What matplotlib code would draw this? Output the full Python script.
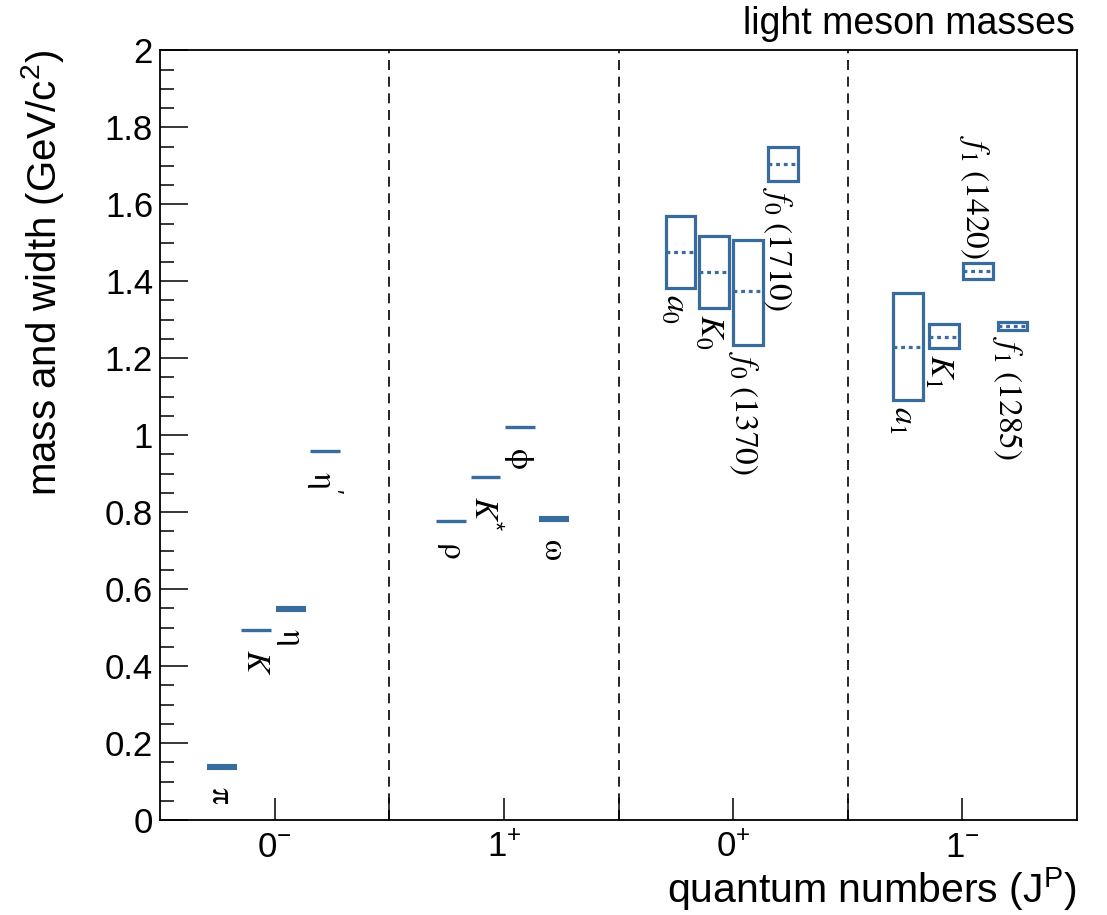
"""Light meson mass / width overview, ROOT-style."""
import matplotlib
matplotlib.use("Agg")
import matplotlib.pyplot as plt
from matplotlib.patches import Rectangle
from matplotlib.ticker import FixedLocator, FuncFormatter, MultipleLocator

plt.rcParams["font.family"] = ["Liberation Sans", "DejaVu Sans"]
plt.rcParams["mathtext.fontset"] = "stix"
plt.rcParams["mathtext.default"] = "regular"

# ---------------------------------------------------------------------------
# Data (GeV/c^2).
# ---------------------------------------------------------------------------
jp_labels = [r"$0^{-}$", r"$1^{+}$", r"$0^{+}$", r"$1^{-}$"]

# narrow states, drawn as short horizontal bars
line_names = [r"$\mathrm{\pi}$", r"$\mathit{K}$", r"$\mathrm{\eta}$",
              r"$\mathrm{\eta}'$", r"$\mathrm{\rho}$", r"$\mathit{K}^{*}$",
              r"$\mathrm{\phi}$", r"$\mathrm{\omega}$"]
line_x = [-0.23, -0.08, 0.07, 0.22, 0.77, 0.92, 1.07, 1.22]
line_mass = [0.138, 0.494, 0.548, 0.958, 0.776, 0.892, 1.020, 0.782]

# broad states, drawn as boxes (mass line + low/high edge)
box_names = [r"$\mathit{a}_{\mathit{0}}$", r"$\mathit{K}_{\mathit{0}}$",
             r"$\mathit{f}_{\mathit{0}}\mathit{\ (1370)}$",
             r"$\mathit{f}_{\mathit{0}}\mathit{\ (1710)}$",
             r"$\mathit{a}_{\mathit{1}}$", r"$\mathit{K}_{\mathit{1}}$",
             r"$\mathit{f}_{\mathit{1}}\mathit{\ (1420)}$",
             r"$\mathit{f}_{\mathit{1}}\mathit{\ (1285)}$"]
box_x = [1.77, 1.917, 2.066, 2.218, 2.764, 2.921, 3.066, 3.218]
box_mass = [1.475, 1.423, 1.374, 1.704, 1.229, 1.255, 1.426, 1.283]
box_lo = [1.382, 1.330, 1.234, 1.660, 1.091, 1.226, 1.405, 1.273]
box_hi = [1.569, 1.517, 1.506, 1.748, 1.369, 1.288, 1.447, 1.294]

# styles
COLOR = "#386b9e"
line_lw = [4.4, 2.4, 4.4, 2.4, 2.4, 2.4, 2.4, 4.4]
box_label_above = [False, False, False, False, False, False, True, False]
HW = 0.065  # half width of bars / boxes in x units

fig = plt.figure(figsize=(11.07, 9.15), dpi=100)
ax = fig.add_axes([0.1445, 0.1038, 0.8285, 0.8412])

for x, m, lw, name in zip(line_x, line_mass, line_lw, line_names):
    ax.hlines(m, x - HW, x + HW, color=COLOR, lw=lw, zorder=3)
    ax.text(x - 0.005, m - 0.05, name, rotation=-90, ha="center", va="top",
            fontsize=24)

for x, m, lo, hi, name, above in zip(box_x, box_mass, box_lo, box_hi,
                                     box_names, box_label_above):
    ax.add_patch(Rectangle((x - HW, lo), 2 * HW, hi - lo, fill=False,
                           ec=COLOR, lw=2.3, zorder=3))
    ax.hlines(m, x - HW, x + HW, color=COLOR, lw=2.3,
              linestyles=(0, (1.2, 1.2)), zorder=3)
    if above:
        ax.text(x - 0.015, hi + 0.01, name, rotation=-90, ha="center",
                va="bottom", fontsize=24)
    else:
        ax.text(x - 0.025, lo - 0.015, name, rotation=-90, ha="center",
                va="top", fontsize=24)

for xs in (0.5, 1.5, 2.5):
    ax.axvline(xs, color="black", lw=1.2, ls=(0, (6, 4)), zorder=1)

ax.set_xlim(-0.5, 3.5)
ax.set_ylim(0, 2)

ax.xaxis.set_major_locator(FixedLocator(range(len(jp_labels))))
ax.set_xticklabels(jp_labels)
ax.xaxis.set_minor_locator(FixedLocator([0.5, 1.5, 2.5]))
ax.yaxis.set_major_locator(MultipleLocator(0.2))
ax.yaxis.set_minor_locator(MultipleLocator(0.05))
ax.yaxis.set_major_formatter(FuncFormatter(lambda v, _: f"{v:g}"))

ax.tick_params(axis="both", which="both", direction="in", width=1.1,
               top=False, right=False, labelsize=25)
ax.tick_params(axis="y", which="major", length=20, pad=5)
ax.tick_params(axis="y", which="minor", length=10)
ax.tick_params(axis="x", which="both", length=16, pad=8)
for sp in ax.spines.values():
    sp.set_linewidth(1.3)

ax.set_ylabel(r"mass and width (GeV/c$^{2}$)", fontsize=29, loc="top",
              labelpad=28)
ax.set_xlabel(r"quantum numbers (J$^{P}$)", fontsize=29.5, loc="right",
              labelpad=1)
fig.text(0.971, 0.993, "light meson masses", ha="right", va="top",
         fontsize=27)

fig.savefig("out.png", dpi=100)
